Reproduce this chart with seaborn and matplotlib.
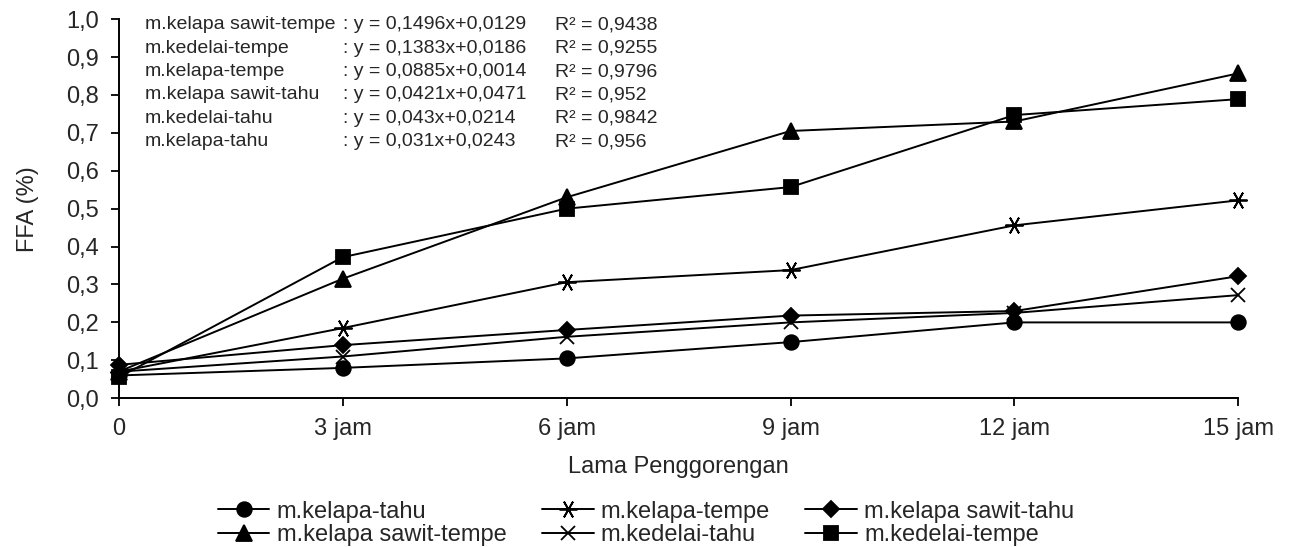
import pandas as pd
import matplotlib.pyplot as plt
import seaborn as sns

# ----------------------------
# Data (FFA % per frying time)
# ----------------------------
jam = [0, 3, 6, 9, 12, 15]
jam_labels = ["0", "3 jam", "6 jam", "9 jam", "12 jam", "15 jam"]

kelapa_tahu = [0.060, 0.080, 0.105, 0.148, 0.200, 0.200]
kelapa_tempe = [0.070, 0.185, 0.306, 0.338, 0.456, 0.522]
kelapa_sawit_tahu = [0.088, 0.140, 0.180, 0.218, 0.230, 0.322]
kelapa_sawit_tempe = [0.070, 0.315, 0.530, 0.705, 0.730, 0.857]
kedelai_tahu = [0.070, 0.110, 0.162, 0.200, 0.225, 0.272]
kedelai_tempe = [0.055, 0.372, 0.500, 0.557, 0.747, 0.789]

series = {
    "m.kelapa-tahu": kelapa_tahu,
    "m.kelapa sawit-tempe": kelapa_sawit_tempe,
    "m.kelapa-tempe": kelapa_tempe,
    "m.kedelai-tahu": kedelai_tahu,
    "m.kelapa sawit-tahu": kelapa_sawit_tahu,
    "m.kedelai-tempe": kedelai_tempe,
}

eq_names = ["m.kelapa sawit-tempe", "m.kedelai-tempe", "m.kelapa-tempe",
            "m.kelapa sawit-tahu", "m.kedelai-tahu", "m.kelapa-tahu"]
eq_lines = [": y = 0,1496x+0,0129", ": y = 0,1383x+0,0186", ": y = 0,0885x+0,0014",
            ": y = 0,0421x+0,0471", ": y = 0,043x+0,0214", ": y = 0,031x+0,0243"]
eq_r2 = ["R² = 0,9438", "R² = 0,9255", "R² = 0,9796",
         "R² = 0,952", "R² = 0,9842", "R² = 0,956"]

markers = {
    "m.kelapa-tahu": ("o", 10.5),
    "m.kelapa sawit-tempe": ("^", 11),
    "m.kelapa-tempe": ((6, 2, 30), 13),
    "m.kedelai-tahu": ("x", 10),
    "m.kelapa sawit-tahu": ("D", 8),
    "m.kedelai-tempe": ("s", 9.5),
}

# ----------------------------
# Plot
# ----------------------------
sns.set_style("white")
plt.rcParams["font.family"] = ["Liberation Sans", "DejaVu Sans"]

fig = plt.figure(figsize=(12.9, 5.47), dpi=100)
ax = fig.add_axes([0.092, 0.272, 0.868, 0.693])

for name, vals in series.items():
    d = pd.DataFrame({"jam": jam, "FFA": vals})
    m, ms = markers[name]
    sns.lineplot(data=d, x="jam", y="FFA", color="black", marker=m,
                 markersize=ms, linewidth=1.4, markeredgecolor="black",
                 markerfacecolor="black", markeredgewidth=1.3,
                 label=name, ax=ax, clip_on=False)

ax.set_xlim(0, 15)
ax.set_ylim(0, 1.0)
ax.set_xticks(jam)
ax.set_xticklabels(jam_labels, fontsize=17)
yt = [i / 10 for i in range(11)]
ax.set_yticks(yt)
ax.set_yticklabels([f"{v:.1f}".replace(".", ",") for v in yt], fontsize=17)
ax.tick_params(axis="both", direction="out", length=6, width=1.3, color="black",
               bottom=True, left=True)
ax.tick_params(axis="x", pad=8)
ax.tick_params(axis="y", pad=8)
for s in ["top", "right"]:
    ax.spines[s].set_visible(False)
for s in ["left", "bottom"]:
    ax.spines[s].set_color("black")
    ax.spines[s].set_linewidth(1.4)

ax.set_xlabel("Lama Penggorengan", fontsize=17, labelpad=12)
ax.set_ylabel("FFA (%)", fontsize=17, labelpad=20)

# regression equations
for i, (n, e, r) in enumerate(zip(eq_names, eq_lines, eq_r2)):
    ypos = 0.985 - i * 0.0617
    ax.text(0.35, ypos, n, fontsize=14, ha="left", va="center")
    ax.text(3.0, ypos, e, fontsize=14, ha="left", va="center")
    ax.text(5.84, ypos, r, fontsize=14, ha="left", va="center")

handles, labels = ax.get_legend_handles_labels()
ax.legend(handles, labels, loc="center", bbox_to_anchor=(0.471, -0.33),
          ncol=3, frameon=False, fontsize=17, handlelength=2.2,
          handletextpad=0.3, columnspacing=1.5, labelspacing=0.05)

plt.savefig("out.png", dpi=100)
plt.close()
